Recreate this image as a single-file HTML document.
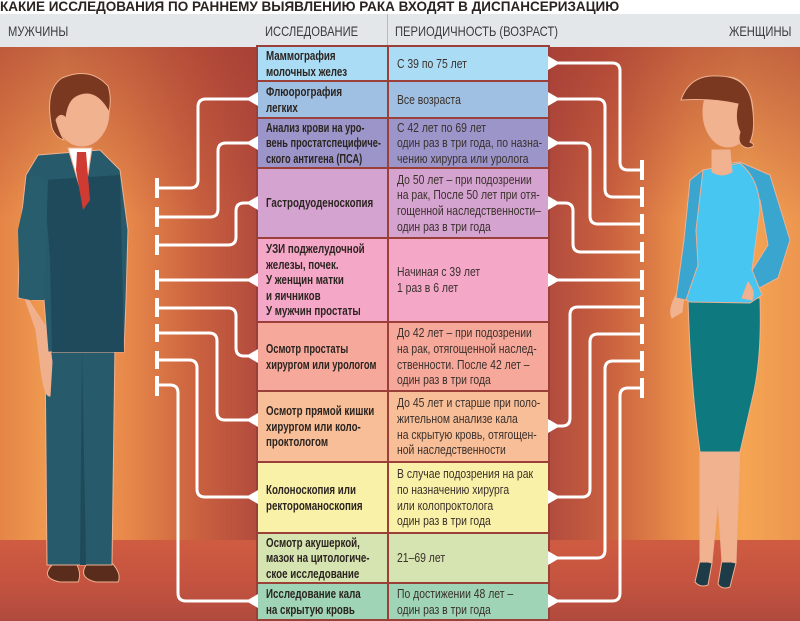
<!DOCTYPE html>
<html><head><meta charset="utf-8"><style>
*{margin:0;padding:0;box-sizing:border-box}
body{width:800px;height:621px;overflow:hidden;position:relative;background:#fff;font-family:"Liberation Sans",sans-serif}
.title{position:absolute;left:0;top:-1px;height:15px;white-space:nowrap;font-weight:bold;font-size:14px;color:#2a2320;transform:scaleX(0.965);transform-origin:left top;line-height:15px}
.hdr{position:absolute;left:0;top:14px;width:800px;height:33px;background:#e4e7ea}
.hl{position:absolute;top:9px;font-size:14px;color:#3a3a3a;white-space:nowrap;transform:scaleX(0.8);transform-origin:left top;line-height:16px}
.bg{position:absolute;left:0;top:47px;width:800px;height:574px;
background:linear-gradient(180deg,rgba(160,55,50,0.55) 0%,rgba(160,55,50,0) 30%),linear-gradient(90deg,#e58447 0%,#f3a253 8%,#e7884a 16%,#c9603f 25%,#b34c3e 32%,#b04a3e 68%,#c9603f 76%,#ec924c 86%,#f5a553 93%,#ec9550 100%)}
.floor{position:absolute;left:0;top:540px;width:800px;height:81px;background:linear-gradient(180deg,#cf5c41 0%,#c55440 50%,#b04a3e 100%)}
.tbl{position:absolute;left:256px;top:45px;width:294px;height:576px;background:#9a4038}
.c{position:absolute;display:flex;flex-direction:column;justify-content:center;padding-left:8px;overflow:visible}
.c span{display:block;white-space:nowrap;font-size:13px;line-height:15.6px;transform:scaleX(0.75);transform-origin:left center;color:#2b2420}
.l span{font-weight:bold}
.r span{color:#3a302c;transform:scaleX(0.8)}
</style></head><body>
<div class="bg"></div>
<div class="floor"></div>
<div class="hdr"></div>
<div class="title">КАКИЕ ИССЛЕДОВАНИЯ ПО РАННЕМУ ВЫЯВЛЕНИЮ РАКА ВХОДЯТ В ДИСПАНСЕРИЗАЦИЮ</div>
<div class="hl" style="left:8px;top:23px">МУЖЧИНЫ</div>
<div class="hl" style="left:265px;top:23px">ИССЛЕДОВАНИЕ</div>
<div style="position:absolute;left:387px;top:14px;width:1px;height:33px;background:#b8bcc0"></div>
<div class="hl" style="left:395px;top:23px">ПЕРИОДИЧНОСТЬ (ВОЗРАСТ)</div>
<div class="hl" style="left:729px;top:23px">ЖЕНЩИНЫ</div>

<div class="tbl"></div>
<div class="c l" style="left:258px;top:47px;width:129px;height:33px;background:#aadcf5"><span>Маммография<br>молочных желез</span></div>
<div class="c r" style="left:389px;top:47px;width:159px;height:33px;background:#aadcf5"><span>С 39 по 75 лет</span></div>

<div class="c l" style="left:258px;top:82px;width:129px;height:35px;background:#9fc0e2"><span>Флюорография<br>легких</span></div>
<div class="c r" style="left:389px;top:82px;width:159px;height:35px;background:#9fc0e2"><span>Все возраста</span></div>

<div class="c l" style="left:258px;top:119px;width:129px;height:48px;background:#9c95ca"><span style="transform:scaleX(0.71)">Анализ крови на уро-<br>вень простатспецифиче-<br>ского антигена (ПСА)</span></div>
<div class="c r" style="left:389px;top:119px;width:159px;height:48px;background:#9c95ca"><span>С 42 лет по 69 лет<br>один раз в три года, по назна-<br>чению хирурга или уролога</span></div>

<div class="c l" style="left:258px;top:169px;width:129px;height:68px;background:#d5a3d0"><span>Гастродуоденоскопия</span></div>
<div class="c r" style="left:389px;top:169px;width:159px;height:68px;background:#d5a3d0"><span>До 50 лет – при подозрении<br>на рак, После 50 лет при отя-<br>гощенной наследственности–<br>один раз в три года</span></div>

<div class="c l" style="left:258px;top:239px;width:129px;height:82px;background:#f5a7c7"><span>УЗИ поджелудочной<br>железы, почек.<br>У женщин матки<br>и яичников<br>У мужчин простаты</span></div>
<div class="c r" style="left:389px;top:239px;width:159px;height:82px;background:#f5a7c7"><span>Начиная с 39 лет<br>1 раз в 6 лет</span></div>

<div class="c l" style="left:258px;top:323px;width:129px;height:67px;background:#f6a99b"><span style="transform:scaleX(0.72)">Осмотр простаты<br>хирургом или урологом</span></div>
<div class="c r" style="left:389px;top:323px;width:159px;height:67px;background:#f6a99b"><span>До 42 лет – при подозрении<br>на рак, отягощенной наслед-<br>ственности. После 42 лет –<br>один раз в три года</span></div>

<div class="c l" style="left:258px;top:392px;width:129px;height:69px;background:#f8be98"><span>Осмотр прямой кишки<br>хирургом или коло-<br>проктологом</span></div>
<div class="c r" style="left:389px;top:392px;width:159px;height:69px;background:#f8be98"><span>До 45 лет и старше при поло-<br>жительном анализе кала<br>на скрытую кровь, отягощен-<br>ной наследственности</span></div>

<div class="c l" style="left:258px;top:463px;width:129px;height:69px;background:#f9f1a8"><span>Колоноскопия или<br>ректороманоскопия</span></div>
<div class="c r" style="left:389px;top:463px;width:159px;height:69px;background:#f9f1a8"><span>В случае подозрения на рак<br>по назначению хирурга<br>или колопроктолога<br>один раз в три года</span></div>

<div class="c l" style="left:258px;top:534px;width:129px;height:48px;background:#d5e4b0"><span>Осмотр акушеркой,<br>мазок на цитологиче-<br>ское исследование</span></div>
<div class="c r" style="left:389px;top:534px;width:159px;height:48px;background:#d5e4b0"><span>21–69 лет</span></div>

<div class="c l" style="left:258px;top:584px;width:129px;height:35px;background:#9fd5b6"><span>Исследование кала<br>на скрытую кровь</span></div>
<div class="c r" style="left:389px;top:584px;width:159px;height:35px;background:#9fd5b6"><span>По достижении 48 лет –<br>один раз в три года</span></div>

<svg style="position:absolute;left:0;top:0" width="800" height="621" viewBox="0 0 800 621">
<g fill="none" stroke="#fff" stroke-width="3" stroke-linejoin="round">
<path d="M157 188 H190 Q198 188 198 180 V107 Q198 99 206 99 H250"/>
<path d="M157 217 H210 Q218 217 218 209 V151 Q218 143 226 143 H250"/>
<path d="M157 245 H228 Q236 245 236 237 V211 Q236 203 244 203 H250"/>
<path d="M157 280 H250"/>
<path d="M157 308 H228 Q236 308 236 316 V348 Q236 356 244 356 H250"/>
<path d="M157 333 H209 Q217 333 217 341 V412 Q217 420 225 420 H250"/>
<path d="M157 360 H189 Q197 360 197 368 V489 Q197 497 205 497 H250"/>
<path d="M157 385 H170 Q178 385 178 393 V593 Q178 601 186 601 H250"/>
<path d="M642 170 H628 Q620 170 620 162 V71 Q620 63 612 63 H556"/>
<path d="M642 197 H613 Q605 197 605 189 V107 Q605 99 597 99 H556"/>
<path d="M642 224 H598 Q590 224 590 216 V151 Q590 143 582 143 H556"/>
<path d="M642 252 H581 Q573 252 573 244 V211 Q573 203 565 203 H556"/>
<path d="M642 280 H556"/>
<path d="M642 307 H578 Q570 307 570 315 V418 Q570 426 562 426 H556"/>
<path d="M642 334 H598 Q590 334 590 342 V489 Q590 497 582 497 H556"/>
<path d="M642 361 H613 Q605 361 605 369 V550 Q605 558 597 558 H556"/>
<path d="M642 388 H628 Q620 388 620 396 V593 Q620 601 612 601 H556"/>
</g>
<g fill="#fff">
<rect x="155" y="178" width="4" height="20"/><rect x="155" y="207" width="4" height="20"/><rect x="155" y="235" width="4" height="20"/><rect x="155" y="270" width="4" height="20"/><rect x="155" y="298" width="4" height="19"/><rect x="155" y="324" width="4" height="18"/><rect x="155" y="351" width="4" height="18"/><rect x="155" y="376" width="4" height="20"/>
<rect x="640" y="160" width="4" height="20"/><rect x="640" y="187" width="4" height="20"/><rect x="640" y="214" width="4" height="20"/><rect x="640" y="242" width="4" height="20"/><rect x="640" y="270" width="4" height="20"/><rect x="640" y="297" width="4" height="20"/><rect x="640" y="324" width="4" height="20"/><rect x="640" y="351" width="4" height="20"/><rect x="640" y="378" width="4" height="20"/>
<polygon points="246,99 258,92 258,106"/><polygon points="246,143 258,136 258,150"/><polygon points="246,203 258,196 258,210"/><polygon points="246,280 258,273 258,287"/><polygon points="246,356 258,349 258,363"/><polygon points="246,420 258,413 258,427"/><polygon points="246,497 258,490 258,504"/><polygon points="246,601 258,594 258,608"/>
<polygon points="560,63 548,56 548,70"/><polygon points="560,99 548,92 548,106"/><polygon points="560,143 548,136 548,150"/><polygon points="560,203 548,196 548,210"/><polygon points="560,280 548,273 548,287"/><polygon points="560,426 548,419 548,433"/><polygon points="560,497 548,490 548,504"/><polygon points="560,558 548,551 548,565"/><polygon points="560,601 548,594 548,608"/>
</g>

<g stroke="#f0b090" stroke-width="1">
<path d="M52 565 Q40 578 60 582 L78 582 Q82 574 76 563 Z" fill="#5a2c1c"/>
<path d="M86 565 Q78 578 96 582 L118 582 Q122 574 112 563 Z" fill="#5a2c1c"/>
<path d="M45 345 L115 345 L112 565 L47 565 Z" fill="#275a6b"/>
<path d="M82 350 L86 565 L80 565 Z" fill="#1e4a59" stroke="none"/>
<path d="M22 290 L36 330 L40 362 Q44 398 50 396 L52 362 L48 330 Z" fill="#f1b08c"/>
<path d="M38 155 L100 150 L120 170 L128 230 L126 300 L124 352 L48 352 L44 300 L35 300 L18 298 L20 230 L26 175 Z" fill="#275a6b"/>
<path d="M44 180 L120 175 L124 352 L52 352 L50 260 Z" fill="#1f4a5b" stroke="none"/>
<path d="M18 230 L30 175 L48 180 L44 300 L30 300 L20 298 Z" fill="#285d6e" stroke="none"/>
<path d="M68 148 L92 148 L88 175 L80 188 Z" fill="#fff"/>
<path d="M77 152 L86 152 L90 200 L83 210 L76 170 Z" fill="#cf3b32" stroke="none"/>
<ellipse cx="82" cy="112" rx="27" ry="34" fill="#f1b28f"/>
<path d="M52 128 Q44 90 62 78 Q90 66 108 86 Q112 98 109 112 Q96 88 78 96 Q68 100 66 118 Q60 112 56 120 Q60 134 64 140 Q56 138 52 128 Z" fill="#7a3820"/>
</g>

<g stroke="#f0b090" stroke-width="1">
<path d="M700 560 L712 563 L708 585 Q700 588 695 582 Z" fill="#1e3c48"/>
<path d="M722 560 L736 563 L730 587 Q722 590 718 584 Z" fill="#1e3c48"/>
<path d="M700 445 L740 445 L736 562 L722 562 L718 500 L712 562 L700 562 Z" fill="#f1b28f"/>
<path d="M688 298 L760 298 Q762 360 752 400 L740 452 L700 452 Q690 380 688 298 Z" fill="#0e7a80"/>
<path d="M676 295 Q668 310 672 318 L682 312 L684 296 Z" fill="#f1b28f"/>
<path d="M715 165 L740 162 L770 175 L790 240 L778 278 L752 292 L746 280 L768 245 L760 200 Z" fill="#3aa6cf"/>
<path d="M703 170 L740 163 Q760 180 760 210 L752 270 L762 295 L750 303 L690 302 L683 298 L696 265 L692 230 L694 190 Z" fill="#48c6f2"/>
<path d="M690 180 L703 170 L696 230 L698 265 L686 300 L676 298 L684 240 Z" fill="#3aa6cf"/>
<path d="M748 282 Q756 292 752 300 L742 298 Z" fill="#f1b28f"/>
<path d="M712 150 L730 150 L732 172 Q722 178 712 172 Z" fill="#f1b28f"/>
<ellipse cx="728" cy="112" rx="25" ry="35" fill="#f1b28f"/>
<path d="M681 100 Q690 74 718 76 Q748 76 752 104 Q756 130 750 142 Q758 146 748 148 Q736 146 740 132 Q734 120 738 104 Q712 98 681 100 Z" fill="#7a3820"/>
</g>
</svg>
</body></html>
